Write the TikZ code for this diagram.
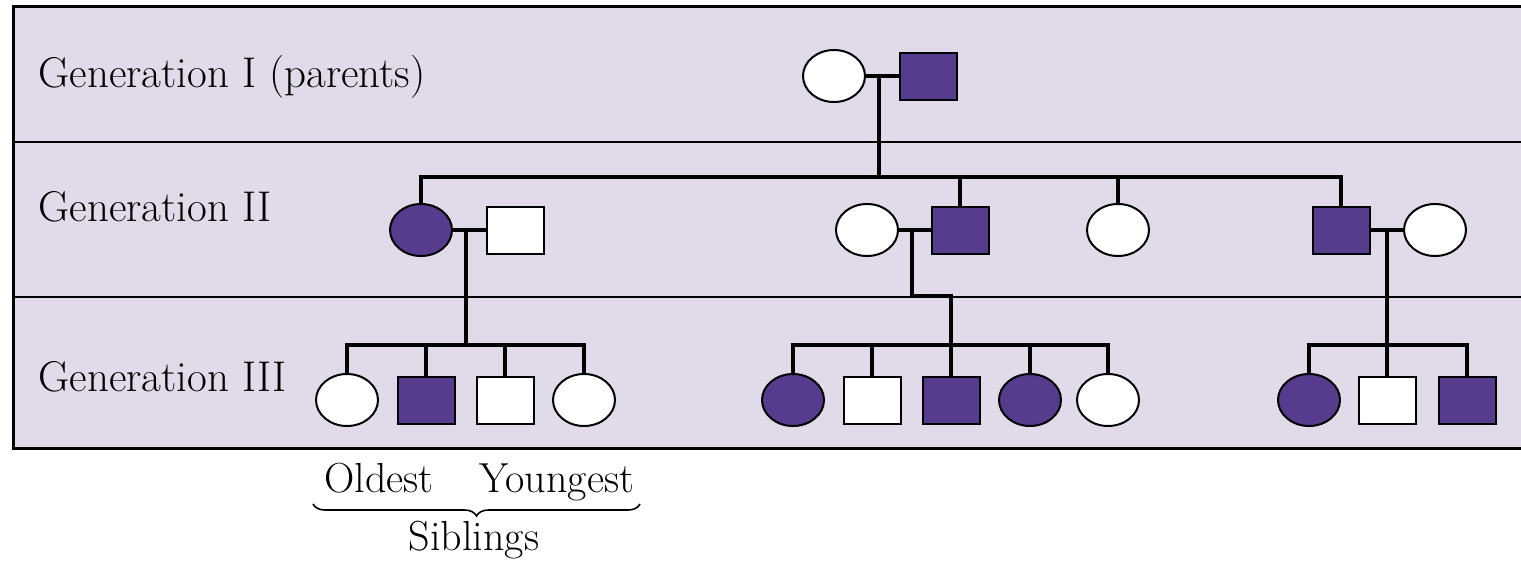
\documentclass[tikz,border=0pt]{standalone}
\usepackage{tikz}
\usetikzlibrary{positioning,shapes.geometric,decorations.pathreplacing,calc}
\usepackage{xcolor}
\definecolor{band}{RGB}{225,218,232}
\definecolor{affected}{RGB}{86,60,140}

\begin{document}
\begin{tikzpicture}[
  x=0.5pt, y=-0.5pt,
  female/.style={ellipse, draw, fill=white, line width=1pt, minimum width=31pt, minimum height=26pt, inner sep=0pt},
  male/.style={rectangle, draw, fill=white, line width=1pt, minimum width=28.5pt, minimum height=23.5pt, inner sep=0pt},
  hit/.style={fill=affected},
  kin/.style={line width=1.8pt},
  gen/.style={anchor=base west, font=\fontsize{21.5}{25}\selectfont, inner sep=0pt},
  note/.style={font=\fontsize{21}{25}\selectfont, inner sep=0pt},
]
  \clip (0,0) rectangle (1521,563);

  % generation bands
  \draw[fill=band, line width=1.5pt] (13,6) rectangle (1540,448);
  \draw[line width=1pt] (13,142) -- (1540,142);
  \draw[line width=1pt] (13,297) -- (1540,297);

  \node[gen] (G1) at (38,87)  {Generation I (parents)};
  \node[gen] (G2) at (38,221) {Generation II};
  \node[gen] (G3) at (38,391) {Generation III};

  % generation I
  \node[female] (I1) at (834,76) {};
  \node[male,hit] (I2) at (928,76) {};

  % generation II
  \node[female,hit] (II1) at (421,230) {};
  \node[male] (II2) at (515,230) {};
  \node[female] (II3) at (867,230) {};
  \node[male,hit] (II4) at (960,230) {};
  \node[female] (II5) at (1118,230) {};
  \node[male,hit] (II6) at (1341,230) {};
  \node[female] (II7) at (1435,230) {};

  % generation III
  \node[female] (III1) at (347,400) {};
  \node[male,hit] (III2) at (426,400) {};
  \node[male] (III3) at (505,400) {};
  \node[female] (III4) at (584,400) {};
  \node[female,hit] (III5) at (793,400) {};
  \node[male] (III6) at (872,400) {};
  \node[male,hit] (III7) at (951,400) {};
  \node[female,hit] (III8) at (1030,400) {};
  \node[female] (III9) at (1108,400) {};
  \node[female,hit] (III10) at (1309,400) {};
  \node[male] (III11) at (1387,400) {};
  \node[male,hit] (III12) at (1467,400) {};

  % mating and sibling points
  \coordinate (m1) at (879,76);
  \coordinate (s1) at (879,177);
  \coordinate (m2) at (466,230);
  \coordinate (s2) at (466,345);
  \coordinate (m3) at (912,230);
  \coordinate (k3) at (912,296);
  \coordinate (s3) at (951,345);
  \coordinate (m4) at (1387,230);
  \coordinate (s4) at (1387,345);

  % couples
  \draw[kin] (I1) -- (I2);
  \draw[kin] (II1) -- (II2);
  \draw[kin] (II3) -- (II4);
  \draw[kin] (II6) -- (II7);

  % descent lines
  \draw[kin] (m1) -- (s1);
  \draw[kin] (m2) -- (s2);
  \draw[kin] (m3) -- (k3) -| (s3);
  \draw[kin] (m4) -- (s4);

  % sibship of generation II
  \draw[kin] (II1.north) |- (s1) -| (II6.north);
  \draw[kin] (II4.north) -- (II4.north |- s1);
  \draw[kin] (II5.north) -- (II5.north |- s1);

  % sibships of generation III
  \draw[kin] (III1.north) |- (s2) -| (III4.north);
  \draw[kin] (III2.north) -- (III2.north |- s2);
  \draw[kin] (III3.north) -- (III3.north |- s2);
  \draw[kin] (III5.north) |- (s3) -| (III9.north);
  \draw[kin] (III6.north) -- (III6.north |- s3);
  \draw[kin] (III7.north) -- (III7.north |- s3);
  \draw[kin] (III8.north) -- (III8.north |- s3);
  \draw[kin] (III10.north) |- (s4) -| (III12.north);
  \draw[kin] (III11.north) -- (III11.north |- s4);

  % birth order
  \node[note, anchor=base] (old) at (379,492) {Oldest};
  \node[note, anchor=base] (young) at (557,492) {Youngest};
  \coordinate (bl) at (313,504);
  \coordinate (br) at (640,504);
  \draw[line width=0.8pt, decorate, decoration={brace, mirror, amplitude=6pt}] (bl) -- (br);
  \node[note, anchor=base] (sib) at (474,550) {Siblings};
\end{tikzpicture}
\end{document}
